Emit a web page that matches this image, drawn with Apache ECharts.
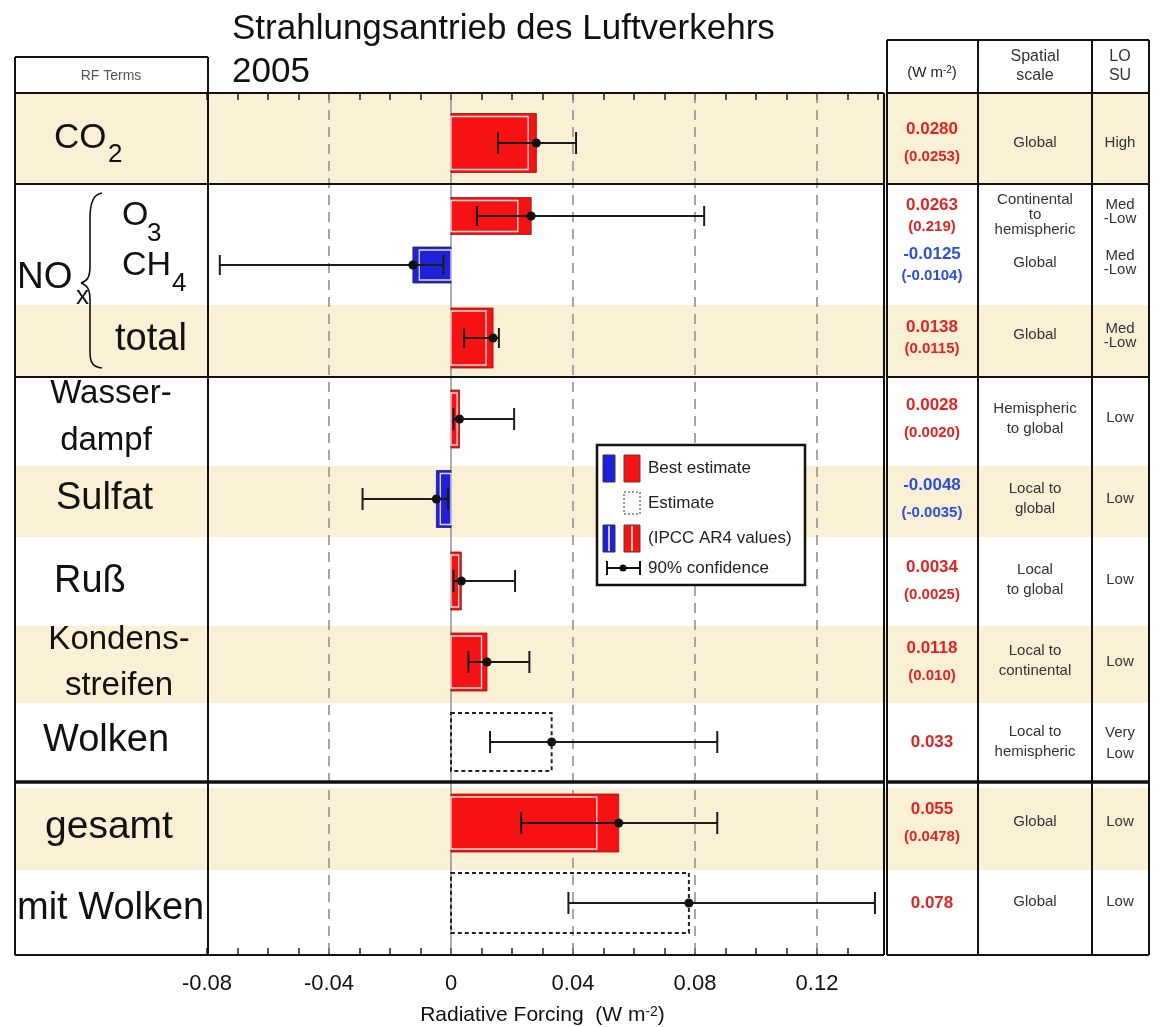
<!DOCTYPE html>
<html>
<head>
<meta charset="utf-8">
<script src="https://cdn.jsdelivr.net/npm/echarts@6/dist/echarts.min.js"></script>
<style>
  html, body { margin: 0; padding: 0; background: #fff; }
  #chart { width: 1173px; height: 1027px; }
</style>
</head>
<body>
<div id="chart"></div>
<script>
// values
const terms = ['CO2', 'O3', 'CH4', 'NOx total', 'Wasserdampf', 'Sulfat', 'Ruß', 'Kondensstreifen', 'Wolken', 'gesamt', 'mit Wolken']
const best = [0.0280, 0.0263, -0.0125, 0.0138, 0.0028, -0.0048, 0.0034, 0.0118, 0.033, 0.055, 0.078]
const ar4 = [0.0253, 0.0219, -0.0104, 0.0115, 0.0020, -0.0035, 0.0025, 0.010, null, 0.0478, null]
const errLow = [0.0154, 0.0085, -0.0758, 0.0043, 0.0008, -0.0290, 0.0008, 0.0057, 0.0128, 0.0230, 0.0385]
const errHigh = [0.0410, 0.0830, -0.0025, 0.0157, 0.0207, -0.0010, 0.0210, 0.0257, 0.0873, 0.0873, 0.1390]
const estimateOnly = [false, false, false, false, false, false, false, false, true, false, true]
const bestText = ['0.0280', '0.0263', '-0.0125', '0.0138', '0.0028', '-0.0048', '0.0034', '0.0118', '0.033', '0.055', '0.078']
const ar4Text = ['(0.0253)', '(0.219)', '(-0.0104)', '(0.0115)', '(0.0020)', '(-0.0035)', '(0.0025)', '(0.010)', '', '(0.0478)', '']
const spatial = ['Global', 'Continental\nto\nhemispheric', 'Global', 'Global', 'Hemispheric\nto global', 'Local to\nglobal',
  'Local\nto global', 'Local to\ncontinental', 'Local to\nhemispheric', 'Global', 'Global']
const losu = ['High', 'Med\n-Low', 'Med\n-Low', 'Med\n-Low', 'Low', 'Low', 'Low', 'Low', 'Very\nLow', 'Low', 'Low']
const xTicks = [-0.08, -0.04, 0, 0.04, 0.08, 0.12]
const gridX = [-0.04, 0, 0.04, 0.08, 0.12]

// layout (pixels): rows measured from the top of the plot frame
const PLOT_TOP = 93
const PLOT_H = 862
const rowY = [50, 123, 172, 245, 326, 406, 488, 569, 649, 730, 810]
const barHalf = [29.5, 18.5, 18, 30, 29, 28.5, 29, 29, 29, 29, 30]
const compact = [false, true, true, true, false, false, false, false, false, false, false]

const FONT = "'Liberation Sans', Arial, Helvetica, sans-serif"
const RED = '#f61212'
const BLUE = '#2020d8'

function txt(x, y, s, size, o = {}) {
  const align = o.align || 'left'
  return {
    type: 'text', x, y, z: 50, silent: true,
    style: {
      text: s, font: (o.bold ? 'bold ' : '') + size + 'px ' + FONT, fill: o.color || '#111',
      textAlign: align, align: align, textVerticalAlign: 'middle', verticalAlign: 'middle',
      lineHeight: o.lh || size * 1.2
    }
  }
}
function seg(x1, y1, x2, y2, w = 2, z = 40) {
  return { type: 'line', z, silent: true, shape: { x1, y1, x2, y2 }, style: { stroke: '#111', lineWidth: w } }
}
function box(x, y, w, h, style, z) {
  return { type: 'rect', z, silent: true, shape: { x, y, width: w, height: h }, style }
}
function curve(x1, y1, cx1, cy1, cx2, cy2, x2, y2) {
  return {
    type: 'bezierCurve', z: 45, silent: true,
    shape: { x1, y1, x2, y2, cpx1: cx1, cpy1: cy1, cpx2: cx2, cpy2: cy2 },
    style: { stroke: '#111', lineWidth: 1.6, fill: null }
  }
}

const graphics = []

// beige bands
;[[93, 184], [305, 377], [466, 537], [626, 703], [788, 870]].forEach(b => {
  graphics.push(box(15, b[0], 1134, b[1] - b[0], { fill: '#faf0d6' }, -5))
})

// frame of left column + plot
graphics.push(seg(15, 57, 208, 57))
graphics.push(seg(15, 57, 15, 955))
graphics.push(seg(208, 57, 208, 955))
graphics.push(seg(884, 93, 884, 955))
;[93, 184, 377, 955].forEach(y => graphics.push(seg(15, y, 884, y, 2)))
graphics.push(seg(15, 782, 884, 782, 3.5))

// table frame
;[887, 978, 1092, 1149].forEach(x => graphics.push(seg(x, 40, x, 955)))
;[40, 93, 184, 377, 955].forEach(y => graphics.push(seg(887, y, 1149, y, 2)))
graphics.push(seg(887, 782, 1149, 782, 3.5))

// titles
graphics.push(txt(232, 29, 'Strahlungsantrieb des Luftverkehrs', 35))
graphics.push(txt(232, 72, '2005', 35))
graphics.push(txt(111, 76, 'RF Terms', 14, { align: 'center', color: '#555' }))
graphics.push({
  type: 'text', x: 932, y: 73, z: 50, silent: true,
  style: {
    text: '(W m{s|-2})', font: '15px ' + FONT, fill: '#222', textAlign: 'center', align: 'center',
    textVerticalAlign: 'middle', verticalAlign: 'middle',
    rich: { s: { fontSize: 10, verticalAlign: 'top', fontFamily: FONT, fill: '#222' } }
  }
})
graphics.push(txt(1035, 66, 'Spatial\nscale', 16, { align: 'center', lh: 19, color: '#333' }))
graphics.push(txt(1120, 66, 'LO\nSU', 16, { align: 'center', lh: 19, color: '#333' }))

// row labels
const labels = [
  ['CO', 54, 138, 35], ['O', 122, 216, 34], ['CH', 122, 266, 34], ['NO', 17, 278, 37], ['total', 115, 340, 38],
  ['Sulfat', 56, 499, 38], ['Ruß', 54, 582, 38], ['Wolken', 43, 741, 38], ['gesamt', 45, 827, 39], ['mit Wolken', 17, 909, 38]
]
labels.forEach(l => graphics.push(txt(l[1], l[2], l[0], l[3])))
const subs = [['2', 108, 155], ['3', 147, 234], ['4', 172, 284], ['x', 76, 297]]
subs.forEach(s => graphics.push(txt(s[1], s[2], s[0], 26)))
graphics.push(txt(111, 394, 'Wasser-', 33, { align: 'center' }))
graphics.push(txt(106, 441, 'dampf', 33, { align: 'center' }))
graphics.push(txt(119, 640, 'Kondens-', 33, { align: 'center' }))
graphics.push(txt(119, 686, 'streifen', 33, { align: 'center' }))
// brace of NOx
graphics.push(curve(102, 193, 93, 194, 90, 203, 90, 218))
graphics.push(seg(90, 218, 90, 266, 1.6, 45))
graphics.push(curve(90, 266, 90, 278, 87, 281, 81, 283))
graphics.push(curve(81, 283, 87, 285, 90, 289, 90, 300))
graphics.push(seg(90, 300, 90, 352, 1.6, 45))
graphics.push(curve(90, 352, 90, 363, 93, 367, 102, 368))

// table rows
terms.forEach((t, i) => {
  const cy = PLOT_TOP + rowY[i]
  const col = best[i] < 0 ? '#2a50dc' : '#e52222'
  const d = compact[i] ? 10.5 : 13.5
  if (ar4Text[i]) {
    graphics.push(txt(932, cy - d, bestText[i], 17, { align: 'center', bold: true, color: col }))
    graphics.push(txt(932, cy + d, ar4Text[i], 15, { align: 'center', bold: true, color: col }))
  } else {
    graphics.push(txt(932, cy, bestText[i], 17, { align: 'center', bold: true, color: col }))
  }
})
const spatialY = [143, 215, 263, 335, 419, 499, 580, 661, 742, 822, 902]
const losuY = [143, 212, 263, 336, 418, 499, 580, 662, 743, 822, 902]
spatial.forEach((s, i) => {
  const c = compact[i]
  graphics.push(txt(1035, spatialY[i], s, 15, { align: 'center', lh: c ? 15 : 20, color: '#333' }))
  graphics.push(txt(1120, losuY[i], losu[i], 15, { align: 'center', lh: c ? 14 : 21, color: '#333' }))
})

// legend box
const lg = []
lg.push(box(597, 445, 208, 140, { fill: '#fff', stroke: '#111', lineWidth: 2.5 }, 30))
lg.push(box(603, 455, 12, 27, { fill: BLUE, stroke: '#335' }, 31))
lg.push(box(624, 455, 16, 27, { fill: RED, stroke: '#733' }, 31))
lg.push(box(624, 492, 16, 22, { fill: null, stroke: '#333', lineWidth: 1, lineDash: [2, 2] }, 31))
lg.push(box(603, 525, 12, 27, { fill: BLUE, stroke: '#335' }, 31))
lg.push(box(624, 525, 16, 27, { fill: RED, stroke: '#733' }, 31))
const w1 = seg(609, 526, 609, 551, 1.5, 32); w1.style.stroke = '#fff'; lg.push(w1)
const w2 = seg(632, 526, 632, 551, 1.5, 32); w2.style.stroke = '#fff'; lg.push(w2)
lg.push(seg(607, 568, 640, 568, 2, 32))
lg.push(seg(607, 561, 607, 575, 2, 32))
lg.push(seg(640, 561, 640, 575, 2, 32))
lg.push({ type: 'circle', z: 33, silent: true, shape: { cx: 623, cy: 568, r: 3.5 }, style: { fill: '#111' } })
lg.push(txt(648, 468, 'Best estimate', 17, { color: '#222' }))
lg.push(txt(648, 503, 'Estimate', 17, { color: '#222' }))
lg.push(txt(648, 538, '(IPCC AR4 values)', 17, { color: '#222' }))
lg.push(txt(648, 568, '90% confidence', 17, { color: '#222' }))
lg.forEach(e => { if (e.z === 50) e.z = 34; graphics.push(e) })

const barData = terms.map((t, i) => [best[i], rowY[i], i])
const errData = terms.map((t, i) => [errLow[i], errHigh[i], rowY[i], best[i], i])
const gridData = gridX.map(v => [v, 0, PLOT_H])

function renderGrid(params, api) {
  const v = api.value(0)
  const a = api.coord([v, api.value(1)])
  const b = api.coord([v, api.value(2)])
  const zero = Math.abs(v) < 1e-12
  return {
    type: 'line', shape: { x1: a[0], y1: a[1], x2: b[0], y2: b[1] },
    style: zero ? { stroke: '#777', lineWidth: 1.2 } : { stroke: '#8a8a8a', lineWidth: 1.5, lineDash: [10, 7] }
  }
}

function renderBar(params, api) {
  const i = api.value(2)
  const y = api.value(1)
  const p0 = api.coord([0, y])
  const p1 = api.coord([api.value(0), y])
  const h = barHalf[i]
  const x = Math.min(p0[0], p1[0])
  const w = Math.abs(p1[0] - p0[0])
  const children = []
  if (estimateOnly[i]) {
    children.push({
      type: 'rect', shape: { x, y: p0[1] - h, width: w, height: 2 * h },
      style: { fill: null, stroke: '#222', lineWidth: 2, lineDash: [4, 3] }
    })
  } else {
    const neg = best[i] < 0
    children.push({
      type: 'rect', shape: { x, y: p0[1] - h, width: w, height: 2 * h },
      style: { fill: neg ? BLUE : RED, stroke: neg ? '#22226a' : '#8a1a1a', lineWidth: 0.8 }
    })
    if (ar4[i] != null) {
      const pa = api.coord([ar4[i], y])
      const ax = Math.min(p0[0], pa[0])
      children.push({
        type: 'rect', shape: { x: ax, y: p0[1] - h + 3, width: Math.abs(pa[0] - p0[0]), height: 2 * h - 6 },
        style: { fill: null, stroke: '#fff', lineWidth: 1.3, opacity: 0.85 }
      })
    }
  }
  return { type: 'group', children }
}

function renderErr(params, api) {
  const i = api.value(4)
  const y = api.value(2)
  const a = api.coord([api.value(0), y])
  const b = api.coord([api.value(1), y])
  const c = api.coord([api.value(3), y])
  const cap = compact[i] ? 10 : 11
  const st = { stroke: '#1a1a1a', lineWidth: 2 }
  return {
    type: 'group', children: [
      { type: 'line', shape: { x1: a[0], y1: a[1], x2: b[0], y2: b[1] }, style: st },
      { type: 'line', shape: { x1: a[0], y1: a[1] - cap, x2: a[0], y2: a[1] + cap }, style: st },
      { type: 'line', shape: { x1: b[0], y1: b[1] - cap, x2: b[0], y2: b[1] + cap }, style: st },
      { type: 'circle', shape: { cx: c[0], cy: c[1], r: 4.5 }, style: { fill: '#111' } }
    ]
  }
}

const tickLine = { color: '#222', width: 1.5 }
const chart = echarts.init(document.getElementById('chart'))
chart.setOption({
  backgroundColor: '#fff',
  animation: false,
  grid: { left: 207, right: 295, top: PLOT_TOP, bottom: 72, show: false, containLabel: false, outerBoundsMode: 'none' },
  xAxis: [
    {
      type: 'value', min: -0.08, max: 0.14, interval: 0.01, position: 'bottom',
      axisLine: { show: false, onZero: false },
      axisTick: { show: true, inside: true, length: 7, lineStyle: tickLine },
      axisLabel: {
        fontSize: 22, fontFamily: FONT, color: '#111', margin: 18, showMaxLabel: false,
        formatter: v => {
          const r = xTicks.find(t => Math.abs(t - v) < 1e-9)
          return r === undefined ? '' : (r === 0 ? '0' : String(+r.toFixed(2)))
        }
      },
      splitLine: { show: false },
      name: '{n|Radiative Forcing  (W m}{s|-2}{n|)}', nameLocation: 'middle', nameGap: 50,
      nameTextStyle: {
        rich: {
          n: { fontSize: 21, fontFamily: FONT, color: '#111' },
          s: { fontSize: 14, fontFamily: FONT, color: '#111', verticalAlign: 'top' }
        }
      }
    },
    {
      type: 'value', min: -0.08, max: 0.14, interval: 0.01, position: 'top',
      axisLine: { show: false, onZero: false }, axisLabel: { show: false }, splitLine: { show: false },
      axisTick: { show: true, inside: true, length: 7, lineStyle: tickLine }
    }
  ],
  yAxis: { type: 'value', min: 0, max: PLOT_H, inverse: true, show: false },
  series: [
    {
      type: 'custom', name: 'grid', xAxisIndex: 0, renderItem: renderGrid, data: gridData,
      encode: { x: 0, y: [1, 2] }, z: 1, silent: true
    },
    {
      type: 'custom', name: 'bars', xAxisIndex: 0, renderItem: renderBar, data: barData,
      encode: { x: 0, y: 1 }, z: 3
    },
    {
      type: 'custom', name: 'confidence', xAxisIndex: 0, renderItem: renderErr, data: errData,
      encode: { x: [0, 1], y: 2 }, z: 6
    }
  ],
  graphic: { elements: graphics }
})
</script>
</body>
</html>
